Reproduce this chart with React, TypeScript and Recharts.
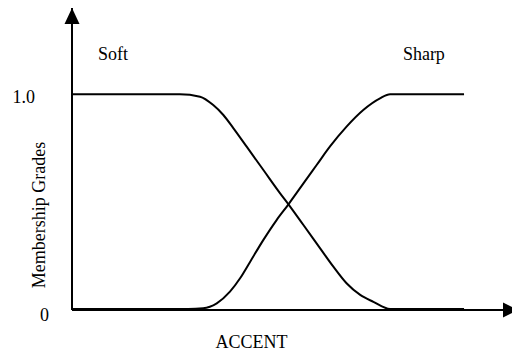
import React from 'react';
import { LineChart, Line, XAxis, YAxis, ReferenceDot } from 'recharts';

const FONT = '"Liberation Serif", "Times New Roman", serif';

// ACCENT axis positions (0..100) and membership grades (0..1)
const softX = [0, 24.5, 29.1, 32.1, 34.4, 36.7, 39.7, 43.5, 47.3, 49.2, 52.6, 56.4, 59.4, 62.4, 65.5, 68.5, 72.3, 89.1];
const softY = [1, 1, 0.989, 0.95, 0.904, 0.842, 0.757, 0.649, 0.541, 0.49, 0.394, 0.286, 0.201, 0.124, 0.07, 0.038, 0.005, 0.005];
const sharpX = [0, 26.4, 29.8, 32.9, 35.9, 38.2, 40.5, 43.5, 46.5, 49.2, 52.6, 55.6, 58.6, 62.4, 66.2, 70.0, 72.3, 89.1];
const sharpY = [0.005, 0.005, 0.008, 0.031, 0.085, 0.147, 0.224, 0.325, 0.417, 0.49, 0.587, 0.672, 0.757, 0.85, 0.927, 0.981, 1, 1];
const yTicks = [0, 1];
const yTickLabels = ['0', '1.0'];
const seriesNames = ['Soft', 'Sharp'];
const xTitle = 'ACCENT';
const yTitle = 'Membership Grades';

const YTick = (props: any) => {
  const { x, y, payload } = props;
  const v = payload.value;
  const label = yTickLabels[yTicks.indexOf(v)];
  const isOne = v === 1;
  return (
    <text
      x={x - (isOne ? 37 : 23)}
      y={y + (isOne ? 8.7 : 11)}
      textAnchor="end"
      fontFamily={FONT}
      fontSize={18}
      fill="#000"
    >
      {label}
    </text>
  );
};

const UpArrow = (p: any) => (
  <path d={`M${p.cx},${p.cy} L${p.cx - 7.5},${p.cy + 16} L${p.cx + 7.5},${p.cy + 16} Z`} fill="#000" />
);
const RightArrow = (p: any) => (
  <path d={`M${p.cx + 6},${p.cy} L${p.cx - 9},${p.cy - 7.5} L${p.cx - 9},${p.cy + 7.5} Z`} fill="#000" />
);

const textShape = (label: string, anchor: string, rotate?: boolean) => (p: any) => (
  <text
    x={p.cx}
    y={p.cy}
    textAnchor={anchor}
    dominantBaseline={rotate ? 'central' : undefined}
    transform={rotate ? `rotate(-90 ${p.cx} ${p.cy})` : undefined}
    fontFamily={FONT}
    fontSize={18}
    fill="#000"
  >
    {label}
  </text>
);

export default function App() {
  const soft = softX.map((x, i) => ({ x, y: softY[i] }));
  const sharp = sharpX.map((x, i) => ({ x, y: sharpY[i] }));
  return (
    <div style={{ position: 'absolute', left: 0, top: 0, width: 512, height: 352, background: '#fff' }}>
      <LineChart width={512} height={352} margin={{ top: 8, right: 0, bottom: 0, left: 0 }}>
        <XAxis
          type="number"
          dataKey="x"
          domain={[0, 100]}
          tick={false}
          tickLine={false}
          axisLine={{ stroke: '#000', strokeWidth: 2 }}
          height={42}
          allowDataOverflow
        />
        <YAxis
          type="number"
          dataKey="y"
          domain={[0, 1.4]}
          ticks={yTicks}
          tick={<YTick />}
          tickLine={false}
          tickSize={0}
          tickMargin={0}
          axisLine={{ stroke: '#000', strokeWidth: 2 }}
          width={72}
          allowDataOverflow
        />
        <Line data={soft} dataKey="y" name={seriesNames[0]} type="monotone" stroke="#000" strokeWidth={2} dot={false} isAnimationActive={false} />
        <Line data={sharp} dataKey="y" name={seriesNames[1]} type="monotone" stroke="#000" strokeWidth={2} dot={false} isAnimationActive={false} />
        <ReferenceDot x={0} y={1.4} ifOverflow="visible" shape={UpArrow} />
        <ReferenceDot x={100} y={0} ifOverflow="visible" shape={RightArrow} />
        <ReferenceDot x={5.9} y={1.159} ifOverflow="visible" shape={textShape(seriesNames[0], 'start')} />
        <ReferenceDot x={75.2} y={1.159} ifOverflow="visible" shape={textShape(seriesNames[1], 'start')} />
        <ReferenceDot x={40.8} y={-0.176} ifOverflow="visible" shape={textShape(xTitle, 'middle')} />
        <ReferenceDot x={-7.5} y={0.44} ifOverflow="visible" shape={textShape(yTitle, 'middle', true)} />
      </LineChart>
    </div>
  );
}
